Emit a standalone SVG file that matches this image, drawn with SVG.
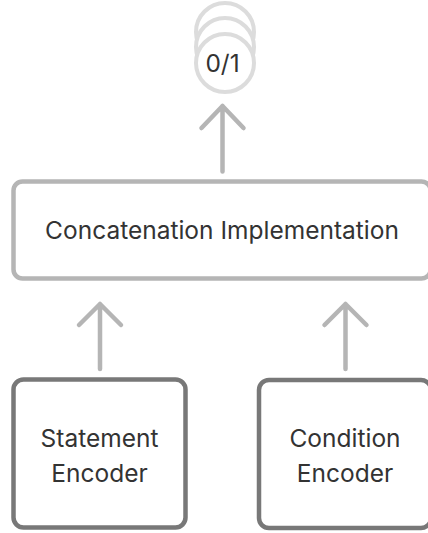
<svg xmlns="http://www.w3.org/2000/svg" width="428" height="533" viewBox="0 0 428 533">
  <style>
    .lbl { font-family: Inter, "Liberation Sans", sans-serif; font-size: 24.5px; fill: #333333; text-anchor: middle; }
    .enc { fill: #ffffff; stroke: #787878; stroke-width: 4.5; }
    .mid { fill: #ffffff; stroke: #b5b5b5; stroke-width: 4.5; }
    .out { fill: #ffffff; stroke: #dcdcdc; stroke-width: 4; }
    .arr { fill: none; stroke: #b5b5b5; stroke-width: 4.5; stroke-linecap: round; stroke-linejoin: round; }
  </style>
  <rect width="428" height="533" fill="#ffffff"/>
  <g id="output">
    <circle class="out" cx="225" cy="32" r="29"/>
    <circle class="out" cx="225" cy="47" r="29"/>
    <circle class="out" cx="225" cy="63" r="29"/>
    <text class="lbl" x="222.5" y="72">0/1</text>
  </g>
  <g id="concat">
    <rect class="mid" x="13.5" y="181.5" width="417" height="97" rx="9"/>
    <text class="lbl" x="222" y="239">Concatenation Implementation</text>
  </g>
  <g id="statement-encoder">
    <rect class="enc" x="13.5" y="379.5" width="172" height="148" rx="10"/>
    <text class="lbl" x="99.5" y="447">Statement</text>
    <text class="lbl" x="99.5" y="482">Encoder</text>
  </g>
  <g id="condition-encoder">
    <rect class="enc" x="259" y="380" width="172" height="148" rx="10"/>
    <text class="lbl" x="345" y="447">Condition</text>
    <text class="lbl" x="345" y="482">Encoder</text>
  </g>
  <g id="connectors">
    <path class="arr" d="M222.5 171.5 V106 M201.5 128 L222.5 106 L243.5 128"/>
    <path class="arr" d="M100 369 V304 M79 325 L100 304 L121 325"/>
    <path class="arr" d="M345.5 369 V304 M324.5 325 L345.5 304 L366.5 325"/>
  </g>
</svg>
